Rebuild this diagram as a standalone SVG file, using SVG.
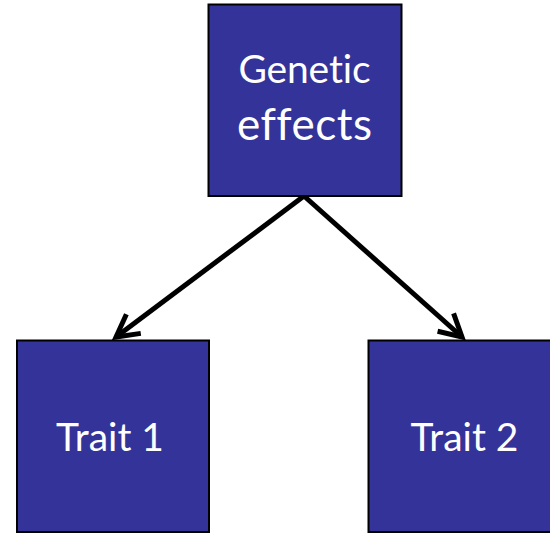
<svg xmlns="http://www.w3.org/2000/svg" width="550" height="534" viewBox="0 0 550 534">
<style>
.box{fill:#333399;stroke:#000;stroke-width:2}
.lbl{font-family:Lato,"Open Sans","Liberation Sans",sans-serif;font-size:39px;fill:#fff;text-anchor:middle;font-variant-ligatures:none;font-feature-settings:"liga" 0,"dlig" 0}
.conn{stroke:#000;stroke-width:5;fill:none}
</style>
<defs>
<marker id="arr" markerUnits="userSpaceOnUse" markerWidth="40" markerHeight="40" viewBox="-30 -20 40 40" refX="0" refY="0" orient="auto" overflow="visible">
<path d="M-22,-12 L0,0 L-22,12" fill="none" stroke="#000" stroke-width="5" stroke-linejoin="miter"/>
</marker>
</defs>
<rect width="550" height="534" fill="#fff"/>
<g id="connectors">
<line class="conn" x1="304" y1="196" x2="116" y2="337" marker-end="url(#arr)"/>
<line class="conn" x1="304" y1="196" x2="462" y2="337" marker-end="url(#arr)"/>
</g>
<g id="genetic">
<rect class="box" x="208.5" y="4.5" width="193" height="191.5"/>
<text class="lbl" x="304.5" y="83" textLength="132" lengthAdjust="spacing">Genetic</text>
<text class="lbl" x="304.5" y="140" style="font-size:44px" textLength="135" lengthAdjust="spacing">effects</text>
</g>
<g id="trait1">
<rect class="box" x="17" y="340.5" width="192" height="191.5"/>
<text class="lbl" x="110" y="451">Trait 1</text>
</g>
<g id="trait2">
<rect class="box" x="368.5" y="340.5" width="192" height="191.5"/>
<text class="lbl" x="464.5" y="451">Trait 2</text>
</g>
</svg>
